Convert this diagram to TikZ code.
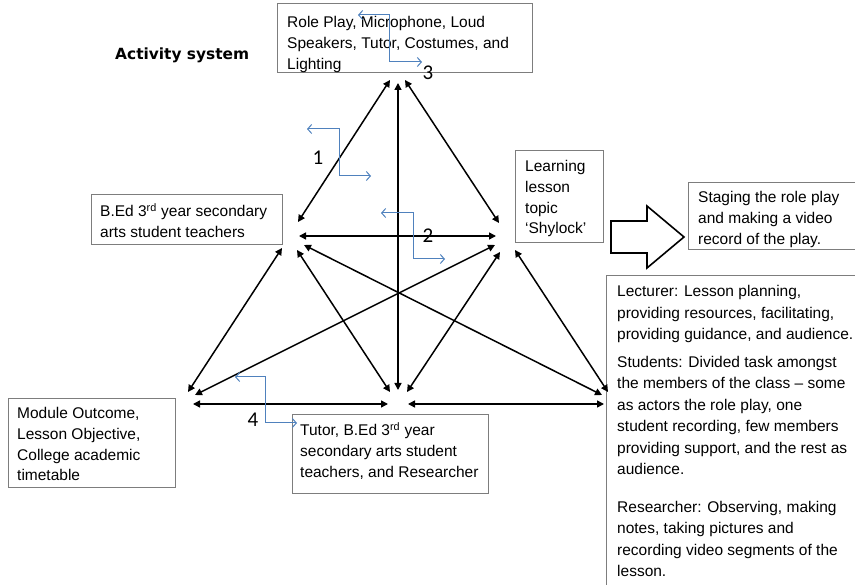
\documentclass[tikz,border=0pt]{standalone}
\usepackage{fontspec}
\setmainfont{Liberation Sans}
\newfontfamily\numfont{Carlito}
\newfontfamily\titlefont{DejaVu Sans}
\usetikzlibrary{arrows.meta}
\definecolor{bluearr}{RGB}{79,129,189}
\definecolor{framegray}{RGB}{125,125,125}
\begin{document}
\begin{tikzpicture}[x=1pt,y=-1pt,
  frame/.style={draw=framegray, line width=0.9pt, inner sep=0pt, anchor=north west},
  txt/.style={anchor=base west, inner sep=0pt, font=\fontsize{15.5}{20.8}\selectfont},
  dbl/.style={line width=1.5pt, {Triangle[length=7pt,width=7pt]}-{Triangle[length=7pt,width=7pt]}},
  barb/.style={draw=bluearr, line width=1pt, {Straight Barb[length=4pt,width=9pt]}-{Straight Barb[length=4pt,width=9pt]}},
  num/.style={font=\numfont\fontsize{21}{21}\selectfont, anchor=base, inner sep=0pt},
  block/.style={draw=black, line width=1.6pt, fill=white, miter limit=10}
]
\useasboundingbox (0,0) rectangle (855,585);

% title
\node[anchor=base west, inner sep=0pt, font=\titlefont\bfseries\fontsize{15.4}{16}\selectfont] (title) at (115,60) {Activity system};

% boxes
\node[frame, minimum width=255pt, minimum height=69pt] (topbox) at (277,3) {};
\node[txt] (toptxt) at (287,28) {\parbox[t]{250pt}{\raggedright Role Play, Microphone, Loud\\ Speakers, Tutor, Costumes, and\\ Lighting}};

\node[frame, minimum width=191pt, minimum height=50pt] (leftbox) at (91,194) {};
\node[txt] (lefttxt) at (100,217) {\parbox[t]{200pt}{\raggedright B.Ed 3\textsuperscript{rd} year secondary\\ arts student teachers}};

\node[frame, minimum width=88pt, minimum height=92pt] (learnbox) at (515,150) {};
\node[txt] (learntxt) at (525,171.5) {\parbox[t]{100pt}{\raggedright Learning\\ lesson\\ topic\\ ‘Shylock’}};

\node[frame, minimum width=174pt, minimum height=67pt] (stagebox) at (688,182) {};
\node[txt] (stagetxt) at (698,203) {\parbox[t]{170pt}{\raggedright Staging the role play\\ and making a video\\ record of the play.}};

\node[frame, minimum width=167pt, minimum height=89pt] (blbox) at (8,398) {};
\node[txt] (bltxt) at (17,418.5) {\parbox[t]{170pt}{\raggedright Module Outcome,\\ Lesson Objective,\\ College academic\\ timetable}};

\node[frame, minimum width=196pt, minimum height=79pt] (bmbox) at (292,414) {};
\node[txt] (bmtxt) at (300,436) {\parbox[t]{200pt}{\raggedright Tutor, B.Ed 3\textsuperscript{rd} year\\ secondary arts student\\ teachers, and Researcher}};

\node[frame, minimum width=260pt, minimum height=330pt] (rbox) at (606,275) {};
\node[txt, font=\fontsize{15.5}{21.5}\selectfont] (rtxt) at (617,297) {\parbox[t]{260pt}{\raggedright Lecturer: Lesson planning,\\ providing resources, facilitating,\\ providing guidance, and audience.\\[6pt] Students: Divided task amongst\\ the members of the class \textendash{} some\\ as actors the role play, one\\ student recording, few members\\ providing support, and the rest as\\ audience.\\[16pt] Researcher: Observing, making\\ notes, taking pictures and\\ recording video segments of the\\ lesson.}};

% block arrow
\draw[block] (611,221) -- (647,221) -- (647,206) -- (684,237) -- (647,268) -- (647,253) -- (611,253) -- cycle;

% vertex end points
\coordinate (T1) at (390,80);
\coordinate (T2) at (398,83);
\coordinate (T3) at (405,80);
\coordinate (L1) at (298,222);
\coordinate (L2) at (299,236);
\coordinate (L3) at (282,248);
\coordinate (L4) at (297,250);
\coordinate (L5) at (304,245);
\coordinate (R1) at (499,223);
\coordinate (R2) at (496,236);
\coordinate (R3) at (495,245);
\coordinate (R4) at (500,252);
\coordinate (R5) at (515,250);
\coordinate (B1) at (390,392);
\coordinate (B2) at (398,390);
\coordinate (B3) at (407,392);
\coordinate (B4) at (388,404);
\coordinate (B5) at (408,404);
\coordinate (BL1) at (188,392);
\coordinate (BL2) at (195,395);
\coordinate (BL3) at (193,404);
\coordinate (BR1) at (602,395);
\coordinate (BR2) at (608,392);
\coordinate (BR3) at (604,404);

% black double arrows
\draw[dbl] (T1) -- (L1);
\draw[dbl] (T3) -- (R1);
\draw[dbl] (T2) -- (B2);
\draw[dbl] (L2) -- (R2);
\draw[dbl] (L3) -- (BL1);
\draw[dbl] (L4) -- (B1);
\draw[dbl] (L5) -- (BR1);
\draw[dbl] (R3) -- (BL2);
\draw[dbl] (R4) -- (B3);
\draw[dbl] (R5) -- (BR2);
\draw[dbl] (BL3) -- (B4);
\draw[dbl] (B5) -- (BR3);

% blue elbow arrows
\coordinate (a1s) at (307,129); \coordinate (a1c1) at (339,129); \coordinate (a1c2) at (339,176); \coordinate (a1e) at (371,176);
\coordinate (a2s) at (381,213); \coordinate (a2c1) at (413,213); \coordinate (a2c2) at (413,259); \coordinate (a2e) at (445,259);
\coordinate (a3s) at (358,15); \coordinate (a3c1) at (389,15); \coordinate (a3c2) at (389,62); \coordinate (a3e) at (422,62);
\coordinate (a4s) at (235,377); \coordinate (a4c1) at (265,377); \coordinate (a4c2) at (265,423); \coordinate (a4e) at (297,423);
\draw[barb] (a1s) -- (a1c1) -- (a1c2) -- (a1e);
\draw[barb] (a2s) -- (a2c1) -- (a2c2) -- (a2e);
\draw[barb] (a3s) -- (a3c1) -- (a3c2) -- (a3e);
\draw[barb] (a4s) -- (a4c1) -- (a4c2) -- (a4e);

% numbers
\node[num] (n1) at (318,165) {1};
\node[num] (n2) at (428,243) {2};
\node[num] (n3) at (428,80) {3};
\node[num] (n4) at (253,427) {4};
\end{tikzpicture}
\end{document}
